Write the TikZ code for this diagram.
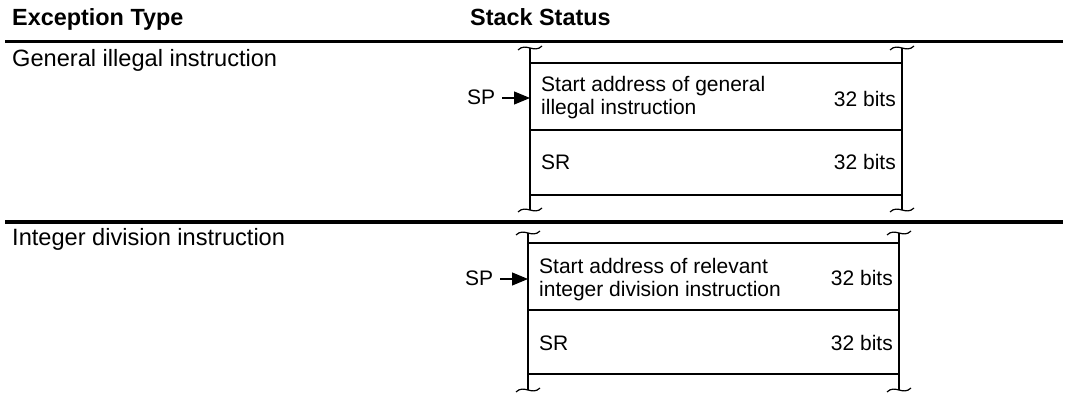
\documentclass[tikz,border=0pt]{standalone}
\usepackage{fontspec}
\setmainfont{Liberation Sans}
\usetikzlibrary{arrows.meta,calc}
\tikzset{
  big/.style={font=\fontsize{23.6}{27}\selectfont, inner sep=0pt, anchor=base west},
  hdr/.style={font=\fontsize{23.4}{27}\selectfont\bfseries, inner sep=0pt, anchor=base west},
  cell/.style={font=\fontsize{21}{25}\selectfont, inner sep=0pt, anchor=base west, align=left},
  bits/.style={font=\fontsize{21}{25}\selectfont, inner sep=0pt, anchor=base east},
  rule/.style={line width=3.6pt},
  thin/.style={line width=1.2pt},
  sparrow/.style={line width=1.2pt, -{Triangle[length=16pt,width=13pt]}},
  brk/.style={line width=1.2pt},
}
\newcommand{\brkmark}[1]{%
  \draw[brk] ($(#1)+(-12,2)$) .. controls ($(#1)+(-4,-6)$) and ($(#1)+(4,6)$) .. ($(#1)+(12,-2)$);}
\begin{document}
\begin{tikzpicture}[x=1pt,y=-1pt]
\useasboundingbox (0,0) rectangle (1066,401);
% headers
\node[hdr] (h1) at (12,26) {Exception Type};
\node[hdr] (h2) at (470,26) {Stack Status};
\draw[rule] (5,41.5) -- (1063,41.5);
\draw[rule] (5,222) -- (1063,222);
% row labels
\node[big] (r1) at (12,67) {General illegal instruction};
\node[big] (r2) at (12,245) {Integer division instruction};

% ---- panel 1 ----
\coordinate (p1tl) at (530,48);
\coordinate (p1bl) at (530,210);
\coordinate (p1tr) at (902,48);
\coordinate (p1br) at (902,210);
\draw[thin] (p1tl) -- (p1bl);
\draw[thin] (p1tr) -- (p1br);
\draw[thin] (530,63) -- (902,63);
\draw[thin] (530,130) -- (902,130);
\draw[thin] (530,195) -- (902,195);
\brkmark{p1tl}\brkmark{p1tr}\brkmark{p1bl}\brkmark{p1br}
\node[cell] (a1) at (541,92) {Start address of general};
\node[cell] (a1b) at (541,115) {illegal instruction};
\node[bits] (b1) at (896,107) {32 bits};
\node[cell] (s1) at (541,170) {SR};
\node[bits] (b1s) at (896,170) {32 bits};
\node[cell] (sp1) at (467,105) {SP};
\coordinate (sp1s) at (502,98);
\coordinate (sp1e) at (530,98);
\draw[sparrow] (sp1s) -- (sp1e);

% ---- panel 2 ----
\coordinate (p2tl) at (528,233);
\coordinate (p2bl) at (528,390);
\coordinate (p2tr) at (899,233);
\coordinate (p2br) at (899,390);
\draw[thin] (p2tl) -- (p2bl);
\draw[thin] (p2tr) -- (p2br);
\draw[thin] (528,243) -- (899,243);
\draw[thin] (528,310) -- (899,310);
\draw[thin] (528,374) -- (899,374);
\brkmark{p2tl}\brkmark{p2tr}\brkmark{p2bl}\brkmark{p2br}
\node[cell] (a2) at (539,273) {Start address of relevant};
\node[cell] (a2b) at (539,296) {integer division instruction};
\node[bits] (b2) at (893,285) {32 bits};
\node[cell] (s2) at (539,350) {SR};
\node[bits] (b2s) at (893,350) {32 bits};
\node[cell] (sp2) at (465,285) {SP};
\coordinate (sp2s) at (500,279);
\coordinate (sp2e) at (528,279);
\draw[sparrow] (sp2s) -- (sp2e);
\end{tikzpicture}
\end{document}
